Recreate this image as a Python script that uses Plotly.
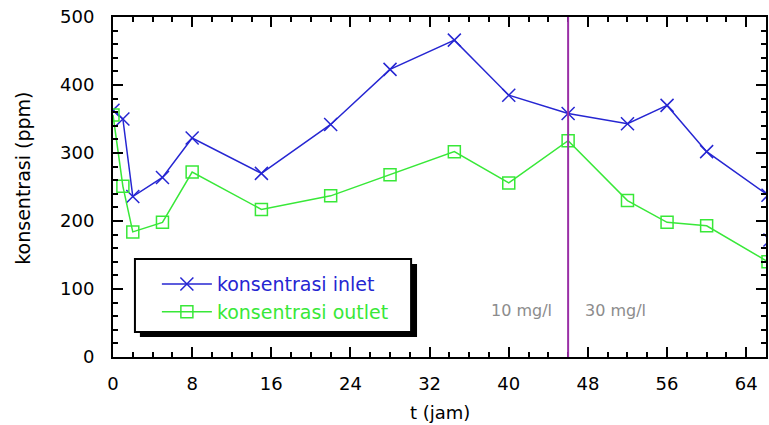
import plotly.graph_objects as go

# ---- data ----
t_inlet = [0, 1, 2, 5, 8, 15, 22, 28, 34.5, 40, 46, 52, 56, 60, 66.2, 66.4]
inlet = [363, 350, 236, 264, 322, 270, 342, 423, 466, 385, 358, 343, 370, 302, 238, 172]

t_outlet = [0, 1, 2, 5, 8, 15, 22, 28, 34.5, 40, 46, 52, 56, 60, 66.2]
outlet = [356, 251, 184, 198, 272, 217, 237, 268, 302, 256, 318, 230, 198, 193, 140]

x_ticks = [0, 8, 16, 24, 32, 40, 48, 56, 64]
y_ticks = [0, 100, 200, 300, 400, 500]
switch_t = 46
label_before = "10 mg/l"
label_after = "30 mg/l"
name_inlet = "konsentrasi inlet"
name_outlet = "konsentrasi outlet"

FONT = "DejaVu Sans"
BLUE = "#2626D2"
GREEN = "#38E838"
PURPLE = "#9A2FA6"

fig = go.Figure()
fig.add_trace(go.Scatter(
    x=t_inlet, y=inlet, mode="lines+markers",
    name=f"<span style='color:{BLUE}'>{name_inlet}</span>",
    line=dict(color=BLUE, width=1.5),
    marker=dict(symbol="x-thin", size=13, line=dict(color=BLUE, width=1.5)),
    cliponaxis=True,
))
fig.add_trace(go.Scatter(
    x=t_outlet, y=outlet, mode="lines+markers",
    name=f"<span style='color:{GREEN}'>{name_outlet}</span>",
    line=dict(color=GREEN, width=1.5),
    marker=dict(symbol="square-open", size=12, color=GREEN, line=dict(color=GREEN, width=1.5)),
    cliponaxis=True,
))

# vertical dosage switch line
fig.add_shape(type="line", xref="x", yref="paper", x0=switch_t, x1=switch_t, y0=0, y1=1,
              line=dict(color=PURPLE, width=2), layer="above")

# legend box with drop shadow
fig.add_shape(type="rect", xref="paper", yref="paper",
              x0=0.0412, x1=0.4656, y0=0.0588, y1=0.2735,
              fillcolor="black", line=dict(width=0), layer="above")
fig.add_shape(type="rect", xref="paper", yref="paper",
              x0=0.0336, x1=0.4565, y0=0.0735, y1=0.2882,
              fillcolor="white", line=dict(color="black", width=2), layer="above")

fig.add_annotation(x=switch_t, y=69, xref="x", yref="y", text=label_before,
                   showarrow=False, xanchor="right", xshift=-14,
                   font=dict(family=FONT, size=16, color="#8c8c8c"))
fig.add_annotation(x=switch_t, y=69, xref="x", yref="y", text=label_after,
                   showarrow=False, xanchor="left", xshift=15,
                   font=dict(family=FONT, size=16, color="#8c8c8c"))

# axis titles
fig.add_annotation(x=-0.139, y=0.525, xref="paper", yref="paper", text="konsentrasi (ppm)",
                   textangle=-90, showarrow=False, xanchor="center", yanchor="middle",
                   font=dict(family=FONT, size=19, color="black"))
fig.add_annotation(x=0.5, y=-0.162, xref="paper", yref="paper", text="t (jam)",
                   showarrow=False, xanchor="center", yanchor="middle",
                   font=dict(family=FONT, size=18, color="black"))

axis_common = dict(
    showline=True, linecolor="black", linewidth=2, mirror="ticks",
    ticks="inside", ticklen=10, tickwidth=1.5, tickcolor="black",
    showgrid=False, zeroline=False,
    tickfont=dict(family=FONT, size=18, color="black"),
)

fig.update_xaxes(range=[0, 66], tickvals=x_ticks, ticklabelstandoff=9,
                 minor=dict(ticks="inside", ticklen=5, dtick=2, tickwidth=1.5, tickcolor="black"),
                 **axis_common)
fig.update_yaxes(range=[0, 500], tickvals=y_ticks, ticklabelstandoff=13,
                 minor=dict(ticks="inside", ticklen=5, dtick=20, tickwidth=1.5, tickcolor="black"),
                 **axis_common)

fig.update_layout(
    width=769, height=425,
    margin=dict(l=113, r=1, t=17, b=68),
    paper_bgcolor="white", plot_bgcolor="white",
    showlegend=True,
    legend=dict(x=0.0672, y=0.27, xanchor="left", yanchor="top",
                bgcolor="rgba(0,0,0,0)", borderwidth=0,
                font=dict(family=FONT, size=19), itemwidth=50),
    font=dict(family=FONT),
)

fig.write_html("out.html")
